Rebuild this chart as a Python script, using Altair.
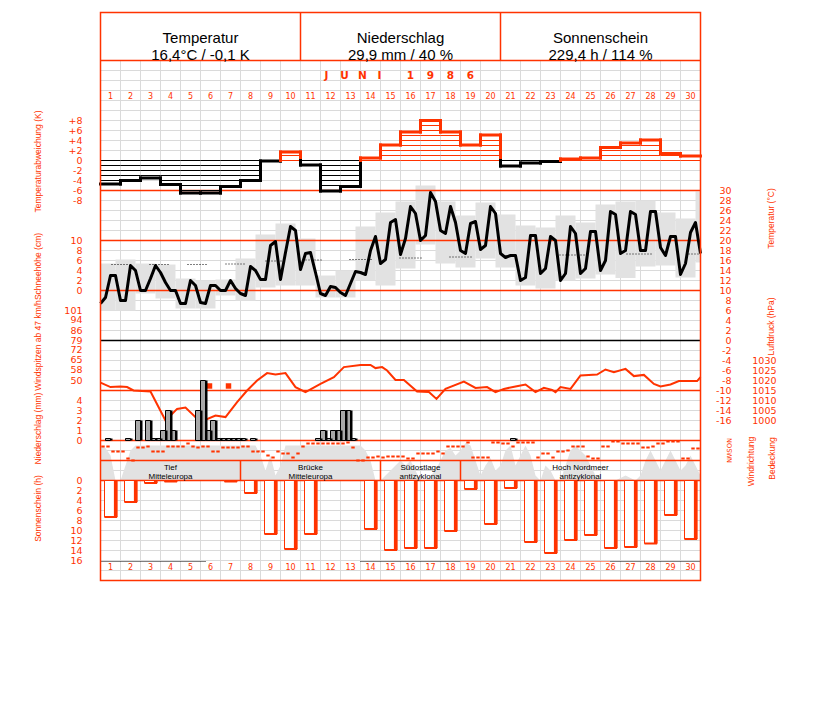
import altair as alt
import pandas as pd

RED = "#ff3300"
GRIDC = "#dadada"
FILLC = "#e2e2e2"
OFF = 7.5
NUM = "DejaVu Sans"
SANS = "Liberation Sans"

# ---------------- data ----------------
DAYS = list(range(1, 31))
TEMP_DEV = [-4.7, -4.0, -3.5, -4.8, -6.5, -6.5, -5.2, -4.0, -0.1, 1.7,
            -0.9, -6.1, -5.2, 0.5, 3.1, 5.7, 8.0, 5.7, 3.1, 5.1,
            -1.1, -0.5, -0.2, 0.3, 0.5, 2.6, 3.5, 4.1, 1.4, 0.9]
SUN_H = [7.3, 4.3, 0.5, 0.2, 0.0, 0.0, 0.2, 2.5, 10.7, 13.7,
         10.7, 0.0, 0.0, 9.7, 13.9, 13.5, 13.5, 10.1, 1.7, 8.7,
         1.5, 12.3, 14.5, 11.9, 10.9, 13.5, 13.3, 12.6, 6.9, 11.7]
# temperature every 6 hours (day 1 00h ... day 30 24h)
TEMP_6H = [7.4, 8.6, 13.0, 13.0, 8.0, 8.0, 15.0, 14.0, 10.0, 10.0, 12.4, 15.0,
           13.6, 11.6, 10.0, 10.0, 7.4, 7.4, 12.0, 11.0, 7.6, 7.4, 11.0, 11.0,
           10.0, 10.0, 12.0, 10.4, 9.4, 9.0, 14.8, 14.0, 12.2, 12.2, 19.0, 19.8,
           12.2, 17.6, 22.8, 22.0, 14.2, 17.4, 17.6, 13.6, 9.4, 9.0, 10.8, 10.6,
           9.6, 9.0, 11.4, 13.8, 13.6, 13.2, 18.0, 20.8, 15.4, 16.2, 23.6, 24.2,
           17.2, 20.4, 26.8, 25.4, 20.0, 21.0, 29.6, 27.8, 22.0, 21.4, 26.8, 23.6,
           18.0, 17.4, 23.4, 23.8, 18.2, 19.0, 26.8, 25.4, 17.4, 16.6, 17.0, 17.0,
           12.0, 12.6, 21.0, 21.0, 13.4, 14.4, 20.8, 20.0, 12.0, 13.4, 22.8, 21.4,
           13.4, 14.4, 21.8, 21.8, 14.0, 16.0, 25.8, 25.2, 17.4, 18.0, 25.8, 25.2,
           18.0, 18.0, 25.8, 25.8, 18.6, 17.0, 20.8, 20.8, 13.2, 15.4, 21.6, 23.6,
           17.4]
# daily extremes band (18h-18h), 31 periods
BAND_TMIN = [6.0, 6.0, 9.4, 8.4, 6.4, 6.4, 9.0, 8.0, 10.6, 11.0, 11.0, 8.6, 8.6, 12.0, 11.0,
             14.4, 19.2, 15.4, 14.6, 16.4, 14.6, 11.0, 10.4, 12.0, 12.4, 13.2, 12.5, 14.8,
             15.0, 12.6, 15.6]
BAND_TMAX = [15.4, 16.2, 15.4, 15.2, 12.4, 12.0, 12.2, 16.4, 21.2, 23.4, 20.4, 13.0, 14.0,
             22.8, 25.6, 27.8, 31.0, 27.8, 25.0, 27.6, 25.2, 23.0, 22.6, 25.0, 23.6, 27.2,
             27.8, 28.0, 25.6, 24.4, 29.8]
# long-term mean temperature (dotted pieces)
NORM_START = [0.55, 2.45, 4.35, 6.25, 8.25, 10.25, 12.45, 14.95, 17.45, 20.1, 22.95, 26.3, 29.4]
NORM_END = [1.4, 3.4, 5.3, 7.2, 9.15, 11.15, 13.65, 16.1, 18.55, 20.75, 24.4, 27.6, 29.9]
NORM_T = [15.2, 15.2, 15.2, 15.3, 15.9, 16.1, 16.2, 16.5, 16.7, 17.0, 17.1, 17.3, 17.3]
# air pressure
PRES_DAY = [0.0, 0.5, 1.0, 1.33, 1.65, 2.5, 3.25, 3.5, 3.83, 4.25, 4.75, 5.17, 5.75, 6.25,
            6.83, 7.33, 7.83, 8.33, 8.75, 9.25, 9.75, 10.25, 11.0, 11.67, 12.17, 13.0, 13.5,
            13.75, 14.08, 14.33, 14.75, 15.17, 15.83, 16.42, 16.8, 17.25, 18.17, 18.75, 19.33,
            19.75, 20.17, 20.75, 21.25, 21.75, 22.17, 22.58, 22.75, 23.0, 23.5, 24.0, 24.83,
            25.25, 25.67, 26.25, 26.67, 27.17, 27.67, 28.0, 28.5, 28.92, 29.83, 30.0]
PRES_HPA = [1018.9, 1016.7, 1017.0, 1016.7, 1015.0, 1014.5, 1000.0, 1002.5, 1005.8, 1006.5,
            1001.7, 1000.0, 1002.5, 1001.7, 1009.2, 1015.0, 1020.0, 1023.7, 1023.0, 1023.7,
            1016.7, 1014.2, 1018.3, 1021.7, 1026.7, 1027.8, 1027.8, 1026.2, 1026.7, 1025.0,
            1020.3, 1020.3, 1014.5, 1014.2, 1010.8, 1015.8, 1019.5, 1016.3, 1016.7, 1014.2,
            1015.8, 1017.0, 1018.0, 1014.2, 1016.3, 1015.3, 1014.2, 1016.7, 1015.8, 1022.5,
            1023.0, 1025.5, 1024.2, 1025.8, 1022.2, 1022.8, 1018.3, 1017.0, 1018.0, 1019.7,
            1019.7, 1021.7]
# precipitation per 6 h (mm)
PRECIP_6H = [0, 0.2, 0, 0, 0, 0.2, 0, 2.0, 0, 2.0,
             0.2, 0.2, 1.0, 3.0, 1.0, 0, 0, 0, 0, 3.0,
             6.0, 1.0, 2.0, 0.2, 0.2, 0.2, 0.2, 0.2, 0.2, 0,
             0.2, 0, 0, 0, 0, 0, 0, 0, 0, 0,
             0, 0, 0, 0.2, 1.0, 0.2, 1.0, 1.0, 3.0, 3.0,
             0.2, 0, 0, 0, 0, 0, 0, 0, 0, 0,
             0, 0, 0, 0, 0, 0, 0, 0, 0, 0,
             0, 0, 0, 0, 0, 0, 0, 0, 0, 0,
             0, 0, 0.2, 0, 0, 0, 0, 0, 0, 0,
             0, 0, 0, 0, 0, 0, 0, 0, 0, 0,
             0, 0, 0, 0, 0, 0, 0, 0, 0, 0,
             0, 0, 0, 0, 0, 0, 0, 0, 0, 0]
# wind direction per 6 h (degrees)
WIND_DIR = [108, 108, 198, 198, 198, 324, 360, 126, 126, 108,
            198, 198, 198, 108, 108, 108, 108, 54, 108, 126,
            108, 108, 198, 198, 126, 126, 126, 126, 108, 108,
            198, 198, 198, 270, 306, 198, 234, 234, 306, 234,
            108, 54, 54, 54, 54, 54, 54, 54, 54, 36,
            126, 360, 360, 306, 306, 288, 306, 288, 288, 288,
            288, 324, 324, 234, 234, 234, 234, 198, 234, 108,
            108, 108, 108, 36, 306, 306, 306, 306, 36, 36,
            54, 54, 108, 36, 36, 36, 36, 306, 234, 234,
            306, 198, 198, 180, 108, 108, 108, 288, 324, 324,
            108, 108, 18, 18, 54, 54, 54, 54, 126, 126,
            108, 54, 54, 18, 18, 18, 324, 324, 144, 144]
# cloud cover per 6 h (octas)
CLOUD = [7, 6.5, 5, 0, 0, 3, 6, 7, 7, 7, 7, 7, 7, 7, 7, 7, 7, 7, 7, 7,
         7, 7, 7, 7, 7, 7, 7, 7, 7, 7, 7, 7, 5, 2, 5, 1, 3, 7, 7, 7,
         7, 7, 7, 7, 7, 7, 7, 7, 7, 7, 7, 7, 7, 6, 4, 0, 0, 1, 2, 3,
         4, 3, 4, 2, 0, 0, 1, 2, 4, 6, 6.5, 5, 6, 7.5, 7, 4, 1, 3, 4.5, 2,
         3, 6, 7, 3, 5, 7, 5, 1, 0, 3, 2, 0, 0, 3, 6, 7, 6, 5, 3, 1,
         0, 0, 0, 0, 0.5, 1, 0.5, 0, 1, 4, 6, 4, 2, 4, 6, 4, 2, 3, 5, 3,
         1]
GUST_DAY = [5.45, 6.4]
GUST_KMH = [46, 46]
WEATHER_START = [0, 7, 14, 18]
WEATHER_END = [7, 14, 18, 30]
WEATHER_LINE1 = ["Tief", "Brücke", "Südostlage", "Hoch Nordmeer"]
WEATHER_LINE2 = ["Mitteleuropa", "Mitteleuropa", "antizyklonal", "antizyklonal"]
SUNDOT_START = [0, 13, 18, 25.5]
SUNDOT_END = [5.25, 18, 25.5, 30]
SUNDOT_COLOR = ["black", "black", RED, "black"]
HEADER_TITLES = ["Temperatur", "Niederschlag", "Sonnenschein"]
HEADER_VALUES = ["16,4°C / -0,1 K", "29,9 mm / 40 %", "229,4 h / 114 %"]
MONTH_CHARS = ["J", "U", "N", "I", "1", "9", "8", "6"]

DEV_TICKS = [8, 6, 4, 2, 0, -2, -4, -6, -8]
DEV_LABELS = ["+8", "+6", "+4", "+2", "0", "-2", "-4", "-6", "-8"]
SNOW_TICKS = [10, 8, 6, 4, 2, 0]
GUST_TICKS = [101, 94, 86, 79, 72, 65, 58, 50]
PREC_TICKS = [4, 3, 2, 1, 0]
SUN_TICKS = [0, 2, 4, 6, 8, 10, 12, 14, 16]
TEMP_TICKS = list(range(30, -17, -2))
PRES_TICKS = [1030, 1025, 1020, 1015, 1010, 1005, 1000]
DIR_TICKS = [0, 90, 180, 270, 360]
DIR_LABELS = ["N", "O", "S", "W", "N"]

# ---------------- scales ----------------
X = alt.Scale(domain=[0, 30], range=[100 - OFF, 700 - OFF], nice=False, zero=False)


def ysc(d0, d1, p0, p1):
    return alt.Scale(domain=[d0, d1], range=[p0 - OFF, p1 - OFF], nice=False, zero=False)


S_ROW = ysc(0, 52, 60, 580)
S_DEV = ysc(0, 8, 160, 120)
S_TEMP = ysc(0, 30, 340, 190)
S_SNOW = ysc(0, 10, 290, 240)
S_GUST = ysc(50, 101, 380, 310)
S_PRES = ysc(1000, 1030, 420, 360)
S_PREC = ysc(0, 4, 440, 400)
S_DIR = ysc(0, 360, 440, 460)
S_CLOUD = ysc(0, 8, 480, 440)
S_SUN = ysc(0, 16, 480, 560)


def xq(f):
    return alt.X(f, type="quantitative", scale=X, axis=None)


def yq(f, sc):
    return alt.Y(f, type="quantitative", scale=sc, axis=None)


def px(v):
    return alt.value(v - OFF)


layers = []

# grid
layers.append(alt.Chart(pd.DataFrame({"d": list(range(1, 30))})).mark_rule(color=GRIDC, strokeWidth=1).encode(
    x=xq("d"), y=px(60), y2=px(580)))
layers.append(alt.Chart(pd.DataFrame({"r": list(range(1, 52))})).mark_rule(color=GRIDC, strokeWidth=1).encode(
    y=yq("r", S_ROW), x=px(100), x2=px(700)))

# cloud cover area
cl = pd.DataFrame({"t": [k / 4 for k in range(len(CLOUD))], "v": CLOUD, "z": 0})
layers.append(alt.Chart(cl).mark_area(color=FILLC).encode(x=xq("t"), y=yq("v", S_CLOUD), y2=alt.Y2("z:Q")))

# temperature band
bd = pd.DataFrame({"s": [max(0, i - 0.25) for i in range(len(BAND_TMIN))],
                   "e": [min(30, i + 0.75) for i in range(len(BAND_TMIN))],
                   "lo": BAND_TMIN, "hi": BAND_TMAX})
layers.append(alt.Chart(bd).mark_rect(color=FILLC).encode(x=xq("s"), x2=alt.X2("e:Q"),
                                                          y=yq("lo", S_TEMP), y2=alt.Y2("hi:Q")))

# structural horizontal lines
layers.append(alt.Chart(pd.DataFrame({"r": [13, 18, 23, 33, 38, 40, 42]})).mark_rule(color=RED, strokeWidth=1.5).encode(
    y=yq("r", S_ROW), x=px(100), x2=px(700)))
layers.append(alt.Chart(pd.DataFrame({"r": [28]})).mark_rule(color="black", strokeWidth=1.5).encode(
    y=yq("r", S_ROW), x=px(100), x2=px(700)))

# temperature deviation: hatch + outline
hatch, outline = [], []
for d, v in zip(DAYS, TEMP_DEV):
    c = RED if v > 0 else "black"
    s = 1 if v > 0 else -1
    for k in range(int(abs(v) + 1e-9) + 1):
        hatch.append({"a": d - 1, "b": d, "y": s * k, "c": c})
    outline.append({"a": d - 1, "b": d, "y": v, "y2": v, "c": c})
for i in range(len(TEMP_DEV) - 1):
    a, b = TEMP_DEV[i], TEMP_DEV[i + 1]
    ca = RED if a > 0 else "black"
    cb = RED if b > 0 else "black"
    if (a > 0) == (b > 0):
        outline.append({"a": i + 1, "b": i + 1, "y": a, "y2": b, "c": ca})
    else:
        outline.append({"a": i + 1, "b": i + 1, "y": a, "y2": 0, "c": ca})
        outline.append({"a": i + 1, "b": i + 1, "y": 0, "y2": b, "c": cb})
layers.append(alt.Chart(pd.DataFrame(hatch)).mark_rule(strokeWidth=1).encode(
    x=xq("a"), x2=alt.X2("b:Q"), y=yq("y", S_DEV), color=alt.Color("c:N", scale=None)))
layers.append(alt.Chart(pd.DataFrame(outline)).mark_rule(strokeWidth=3, strokeCap="square").encode(
    x=xq("a"), x2=alt.X2("b:Q"), y=yq("y", S_DEV), y2=alt.Y2("y2:Q"), color=alt.Color("c:N", scale=None)))

# normal temperature dotted
nm = pd.DataFrame({"s": NORM_START, "e": NORM_END, "t": NORM_T})
layers.append(alt.Chart(nm).mark_rule(color="black", strokeWidth=1, strokeDash=[1, 2]).encode(
    x=xq("s"), x2=alt.X2("e:Q"), y=yq("t", S_TEMP)))

# temperature line
tl = pd.DataFrame({"t": [k / 4 for k in range(len(TEMP_6H))], "v": TEMP_6H})
layers.append(alt.Chart(tl).mark_line(color="black", strokeWidth=3, strokeJoin="round").encode(
    x=xq("t"), y=yq("v", S_TEMP)))

# pressure line
pr = pd.DataFrame({"t": PRES_DAY, "v": PRES_HPA})
layers.append(alt.Chart(pr).mark_line(color=RED, strokeWidth=2).encode(x=xq("t"), y=yq("v", S_PRES)))

# gusts
gs = pd.DataFrame({"t": GUST_DAY, "v": GUST_KMH})
layers.append(alt.Chart(gs).mark_square(color=RED, size=30, opacity=1).encode(x=xq("t"), y=yq("v", S_GUST)))

# precipitation
pc = pd.DataFrame({"s": [k / 4 for k in range(len(PRECIP_6H))],
                   "e": [(k + 1) / 4 for k in range(len(PRECIP_6H))],
                   "e2": [(k + 1) / 4 + 0.1 for k in range(len(PRECIP_6H))],
                   "v": PRECIP_6H, "z": 0})
pc = pc[pc["v"] > 0]
layers.append(alt.Chart(pc).mark_rect(fill="#a9a9a9", stroke="black", strokeWidth=1).encode(
    x=xq("s"), x2=alt.X2("e:Q"), y=yq("z", S_PREC), y2=alt.Y2("v:Q")))
layers.append(alt.Chart(pc).mark_rect(fill="black").encode(
    x=xq("e"), x2=alt.X2("e2:Q"), y=yq("z", S_PREC), y2=alt.Y2("v:Q")))

# wind direction dashes
wd = pd.DataFrame({"s": [k / 4 + 0.04 for k in range(len(WIND_DIR))],
                   "e": [k / 4 + 0.21 for k in range(len(WIND_DIR))], "v": WIND_DIR})
layers.append(alt.Chart(wd).mark_rule(color=RED, strokeWidth=2).encode(
    x=xq("s"), x2=alt.X2("e:Q"), y=yq("v", S_DIR)))

# weather types
wt = pd.DataFrame({"m": [(a + b) / 2 for a, b in zip(WEATHER_START, WEATHER_END)],
                   "l1": WEATHER_LINE1, "l2": WEATHER_LINE2})
layers.append(alt.Chart(wt).mark_text(font=SANS, fontSize=8, baseline="alphabetic", align="center",
                                      color="black").encode(x=xq("m"), y=px(469), text="l1:N"))
layers.append(alt.Chart(wt).mark_text(font=SANS, fontSize=8, baseline="alphabetic", align="center",
                                      color="black").encode(x=xq("m"), y=px(478.5), text="l2:N"))
layers.append(alt.Chart(pd.DataFrame({"d": WEATHER_START[1:]})).mark_rule(color=RED, strokeWidth=1.5).encode(
    x=xq("d"), y=px(460), y2=px(480)))

# sunshine bars
sn = pd.DataFrame({"s": [d - 0.8 for d in DAYS], "e": [d - 0.17 for d in DAYS],
                   "sh": [d - 0.33 for d in DAYS], "v": SUN_H, "z": 0})
sn = sn[sn["v"] > 0]
layers.append(alt.Chart(sn).mark_rect(fill="white", stroke=RED, strokeWidth=1).encode(
    x=xq("s"), x2=alt.X2("e:Q"), y=yq("z", S_SUN), y2=alt.Y2("v:Q")))
layers.append(alt.Chart(sn).mark_rect(fill=RED).encode(
    x=xq("sh"), x2=alt.X2("e:Q"), y=yq("z", S_SUN), y2=alt.Y2("v:Q")))
layers.append(alt.Chart(sn).mark_rule(color=RED, strokeWidth=2).encode(
    x=xq("s"), x2=alt.X2("e:Q"), y=yq("v", S_SUN)))
sd = pd.DataFrame({"s": SUNDOT_START, "e": SUNDOT_END, "c": SUNDOT_COLOR, "v": 16.2})
layers.append(alt.Chart(sd).mark_rule(strokeWidth=1, strokeDash=[1, 1]).encode(
    x=xq("s"), x2=alt.X2("e:Q"), y=yq("v", S_SUN), color=alt.Color("c:N", scale=None)))

# frame + header
layers.append(alt.Chart(pd.DataFrame({"a": [0]})).mark_rect(fillOpacity=0, stroke=RED, strokeWidth=1.5).encode(
    x=px(100), x2=px(700), y=px(12), y2=px(580)))
layers.append(alt.Chart(pd.DataFrame({"r": [0]})).mark_rule(color=RED, strokeWidth=1.5).encode(
    y=yq("r", S_ROW), x=px(100), x2=px(700)))
layers.append(alt.Chart(pd.DataFrame({"d": [10, 20]})).mark_rule(color=RED, strokeWidth=1.5).encode(
    x=xq("d"), y=px(12), y2=px(60)))
hd = pd.DataFrame({"m": [5, 15, 25], "t1": HEADER_TITLES, "t2": HEADER_VALUES})
layers.append(alt.Chart(hd).mark_text(font=SANS, fontSize=15, color="black").encode(
    x=xq("m"), y=px(37), text="t1:N"))
layers.append(alt.Chart(hd).mark_text(font=SANS, fontSize=15, color="black").encode(
    x=xq("m"), y=px(54), text="t2:N"))
mc = pd.DataFrame({"c": MONTH_CHARS, "x": [11.3, 12.2, 13.1, 13.95, 15.5, 16.5, 17.5, 18.5]})
layers.append(alt.Chart(mc).mark_text(font=NUM, fontSize=10.5, fontWeight="bold", color=RED).encode(
    x=xq("x"), y=px(75), text="c:N"))

# day numbers top & bottom
dn = pd.DataFrame({"m": [d - 0.5 for d in DAYS], "t": [str(d) for d in DAYS]})
for yy in (96, 567):
    layers.append(alt.Chart(dn).mark_text(font=NUM, fontSize=8, color=RED, baseline="middle").encode(
        x=xq("m"), y=px(yy), text="t:N"))


def ticks(vals, labels, sc, xr):
    df = pd.DataFrame({"v": vals, "t": labels})
    return alt.Chart(df).mark_text(font=NUM, fontSize=9.5, color=RED, align="right", baseline="middle").encode(
        x=px(xr), y=yq("v", sc), text="t:N")


layers.append(ticks(DEV_TICKS, DEV_LABELS, S_DEV, 82))
layers.append(ticks(SNOW_TICKS, [str(v) for v in SNOW_TICKS], S_SNOW, 82))
layers.append(ticks(GUST_TICKS, [str(v) for v in GUST_TICKS], S_GUST, 82))
layers.append(ticks(PREC_TICKS, [str(v) for v in PREC_TICKS], S_PREC, 82))
layers.append(ticks(SUN_TICKS, [str(v) for v in SUN_TICKS], S_SUN, 82))
layers.append(ticks(TEMP_TICKS, [str(v) for v in TEMP_TICKS], S_TEMP, 731))
layers.append(ticks(PRES_TICKS, [str(v) for v in PRES_TICKS], S_PRES, 776))
dl = pd.DataFrame({"v": DIR_TICKS, "t": DIR_LABELS})
layers.append(alt.Chart(dl).mark_text(font=NUM, fontSize=6.5, color=RED, angle=90, baseline="middle",
                                      align="center").encode(x=px(728), y=yq("v", S_DIR), text="t:N"))

# rotated axis titles
TITLES = [("Temperaturabweichung (K)", 37, 161), ("Schneehöhe (cm)", 37, 266),
          ("Windspitzen ab 47 km/h", 37, 345), ("Niederschlag (mm)", 37, 428),
          ("Sonnenschein (h)", 37, 508), ("Temperatur (°C)", 770, 218),
          ("Luftdruck (hPa)", 770, 326), ("Windrichtung", 750, 461), ("Bedeckung", 771, 458)]
for txt, xx, yy in TITLES:
    layers.append(alt.Chart(pd.DataFrame({"t": [txt]})).mark_text(
        font=SANS, fontSize=8.5, color=RED, angle=270, align="center", baseline="middle").encode(
        x=px(xx), y=px(yy), text="t:N"))

chart = alt.layer(*layers).resolve_scale(y="independent").properties(
    width=811, height=686, autosize=alt.AutoSizeParams(type="none"), padding=0
).configure_view(strokeWidth=0)

chart.save("out.html", embed_options={"renderer": "svg", "actions": False})
